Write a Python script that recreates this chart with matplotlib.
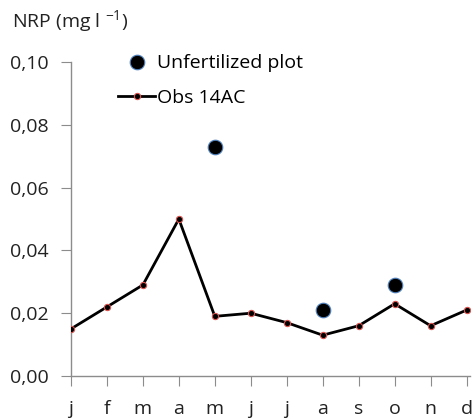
import numpy as np
import matplotlib.pyplot as plt
from matplotlib.lines import Line2D

plt.rcParams['font.family'] = ['Open Sans', 'DejaVu Sans']
plt.rcParams['mathtext.fontset'] = 'custom'
plt.rcParams['mathtext.rm'] = 'Open Sans'

# monthly NRP concentrations
months = ['j', 'f', 'm', 'a', 'm', 'j', 'j', 'a', 's', 'o', 'n', 'd']
obs_14ac = [0.015, 0.022, 0.029, 0.050, 0.019, 0.020, 0.017, 0.013, 0.016, 0.023, 0.016, 0.021]
unfert_idx = [4, 7, 9]
unfert_val = [0.073, 0.021, 0.029]
yticks = [0.0, 0.02, 0.04, 0.06, 0.08, 0.10]

fig = plt.figure(figsize=(4.73, 4.18), dpi=100)
ax = fig.add_axes([0.150, 0.1005, 0.844, 0.751])

x = np.arange(len(months))
ax.plot(x, obs_14ac, color='black', lw=2.0, marker='o', ms=4.5,
        mfc='black', mec='#d9534f', mew=0.8, zorder=3)
ax.plot(unfert_idx, unfert_val, ls='none', marker='o', ms=10.5,
        mfc='black', mec='#4f81bd', mew=0.8, zorder=4)

ax.set_xlim(0, 11.1)
ax.set_ylim(0, 0.10)
ax.set_xticks(x)
ax.set_xticklabels(months)
ax.set_yticks(yticks)
ax.set_yticklabels([('%.2f' % v).replace('.', ',') for v in yticks])

for s in ['top', 'right']:
    ax.spines[s].set_visible(False)
for s in ['left', 'bottom']:
    ax.spines[s].set_color('#8c8c8c')
    ax.spines[s].set_linewidth(1.0)
ax.tick_params(axis='both', colors='#8c8c8c', labelcolor='#222222', labelsize=14, length=7)
ax.tick_params(axis='x', pad=10)
ax.tick_params(axis='y', pad=9)

handles = [
    Line2D([], [], ls='none', marker='o', ms=10.5, mfc='black', mec='#4f81bd', mew=0.8),
    Line2D([], [], color='black', lw=2.0, marker='o', ms=4.5, mfc='black', mec='#d9534f', mew=0.8),
]
ax.legend(handles, ['Unfertilized plot', 'Obs 14AC'], loc='upper left',
          bbox_to_anchor=(0.075, 1.08), frameon=False, fontsize=14,
          handlelength=1.9, handletextpad=0.1, labelspacing=0.85)

fig.text(0.025, 0.948, r'NRP (mg l $^{-1}$)', fontsize=14, color='#222222', va='center')

fig.savefig('out.png', dpi=100)
